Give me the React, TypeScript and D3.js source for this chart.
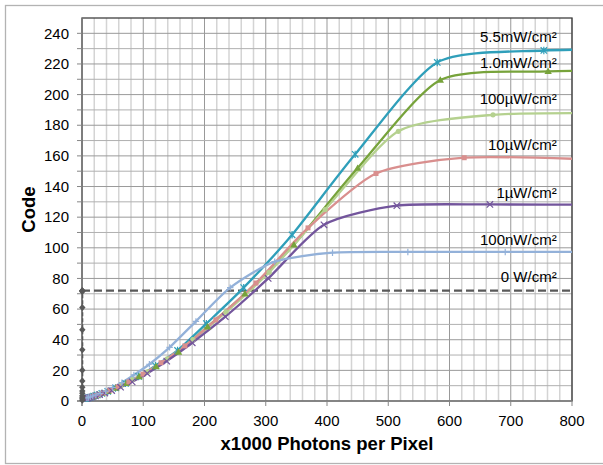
import React from 'react';
import * as d3 from 'd3';

// axis ticks
const xTicks = [0, 100, 200, 300, 400, 500, 600, 700, 800];
const yTicks = [0, 20, 40, 60, 80, 100, 120, 140, 160, 180, 200, 220, 240];

// series labels (drawn at the right end of each curve)
const seriesNames = ['5.5mW/cm²', '1.0mW/cm²', '100µW/cm²', '10µW/cm²', '1µW/cm²', '100nW/cm²', '0 W/cm²'];
const labelY = [238, 221, 197, 167, 136, 105, 81];
const labelX = 775;

// 5.5mW/cm²
const xTeal = [6.7, 8.7, 11.3, 14.7, 19.1, 24.9, 32.4, 42, 54.7, 71, 92.4, 120, 156, 203, 264, 343, 446, 580, 754, 980];
const yTeal = [1.7, 1.9, 2.2, 2.6, 3.2, 3.9, 4.9, 6.3, 8.5, 11.5, 16, 23, 33, 50.5, 74, 108.5, 161, 221, 228.8, 229.2];
// 1.0mW/cm²
const xGreen = [6.8, 8.8, 11.4, 14.9, 19.3, 25.1, 32.7, 42.5, 55.2, 71.8, 93.3, 121, 157.6, 205, 266, 346, 450, 585, 761, 989];
const yGreen = [1.8, 2, 2.3, 2.7, 3.3, 4, 5, 6.3, 8.5, 11.5, 16, 22.5, 32, 48.5, 70, 102, 152, 209.5, 215.2, 215.4];
// 100µW/cm²
const xLtGreen = [7.8, 10.1, 13.1, 17, 22.2, 28.8, 37.5, 48.7, 63.3, 82.3, 107, 139, 181, 235, 305.6, 397, 516.5, 671, 873];
const yLtGreen = [1.8, 2.1, 2.5, 3, 3.6, 4.5, 5.7, 7.5, 10, 14, 19, 27.5, 40, 58, 84, 125, 176, 186.8, 187.8];
// 10µW/cm²
const xPink = [7.2, 9.4, 12.2, 15.9, 20.6, 26.8, 34.8, 45.3, 58.9, 76.5, 99.5, 129, 168, 218.5, 284, 369, 480, 624, 811];
const yPink = [1.8, 2, 2.3, 2.8, 3.4, 4.2, 5.3, 7, 9.3, 12.5, 17.5, 25, 36, 53, 77, 113, 148.5, 158.8, 158];
// 1µW/cm²
const xPurple = [7.7, 10, 13, 17, 22, 28.7, 37.3, 48.5, 63, 81.9, 106.5, 138.4, 180, 234, 304, 395, 514, 666, 866];
const yPurple = [1.7, 2, 2.3, 2.7, 3.3, 4.1, 5.2, 6.8, 9, 12.5, 18, 26, 38, 55, 80, 115, 127.5, 128.3, 128];
// 100nW/cm²
const xLtBlue = [8, 10.4, 13.5, 17.5, 22.8, 29.6, 38.5, 50.1, 65.1, 84.7, 110, 143, 186, 242, 314.7, 409, 532, 691, 899];
const yLtBlue = [2, 2.3, 2.7, 3.3, 4, 5, 6.5, 8.8, 12, 17, 24, 35, 52, 74, 91, 96.8, 97.3, 97.3, 97.3];
// 0 W/cm²
const xDark = [0.5, 0.5, 0.5, 0.5, 0.5, 0.5, 0.5, 0.5, 0.5, 0.5, 0.5, 0.5, 0.5, 0.5, 0.5, 0.5];
const yDark = [0.5, 1.5, 2.5, 3.5, 5, 6.5, 9, 13, 20, 33.5, 46.5, 61, 71.5, 72, 72, 72];
const xDarkLevel = [0, 800];
const yDarkLevel = [72, 72];

const seriesX = [xTeal, xGreen, xLtGreen, xPink, xPurple, xLtBlue, xDark];
const seriesY = [yTeal, yGreen, yLtGreen, yPink, yPurple, yLtBlue, yDark];
const colors = ['#2f9fba', '#77a33b', '#b5d18f', '#d98f8e', '#73559c', '#93b1d9', '#595959'];
const markers = ['star', 'triangle', 'circle', 'square', 'cross', 'plus', 'diamond'];

const W = 603;
const H = 465;
const left = 82;
const right = 572;
const top = 18;
const bottom = 401;
const font = '"Liberation Sans", Arial, sans-serif';

function Marker({ kind, cx, cy, color }: { kind: string; cx: number; cy: number; color: string }) {
  const s = 3.2;
  if (kind === 'star') {
    return (
      <path d={`M${cx - s},${cy - s}L${cx + s},${cy + s}M${cx - s},${cy + s}L${cx + s},${cy - s}M${cx},${cy - s - 0.5}L${cx},${cy + s + 0.5}`}
        stroke={color} strokeWidth={1.2} fill="none" />
    );
  }
  if (kind === 'cross') {
    return <path d={`M${cx - s},${cy - s}L${cx + s},${cy + s}M${cx - s},${cy + s}L${cx + s},${cy - s}`} stroke={color} strokeWidth={1.2} fill="none" />;
  }
  if (kind === 'plus') {
    return <path d={`M${cx - s},${cy}L${cx + s},${cy}M${cx},${cy - s}L${cx},${cy + s}`} stroke={color} strokeWidth={1.2} fill="none" />;
  }
  if (kind === 'triangle') {
    return <path d={`M${cx},${cy - s - 0.5}L${cx + s + 0.5},${cy + s - 0.5}L${cx - s - 0.5},${cy + s - 0.5}Z`} fill={color} />;
  }
  if (kind === 'square') {
    return <rect x={cx - 2.5} y={cy - 2.5} width={5} height={5} fill={color} />;
  }
  if (kind === 'diamond') {
    return <path d={`M${cx},${cy - s - 0.3}L${cx + s},${cy}L${cx},${cy + s + 0.3}L${cx - s},${cy}Z`} fill={color} />;
  }
  return <circle cx={cx} cy={cy} r={2.6} fill={color} />;
}

export default function App() {
  const x = d3.scaleLinear().domain([0, 800]).range([left, right]);
  const y = d3.scaleLinear().domain([0, 250]).range([bottom, top]);

  // smoothed lines, a little tension to keep the saturation knee from overshooting
  const line = d3
    .line<[number, number]>()
    .x((d) => x(d[0]))
    .y((d) => y(d[1]))
    .curve(d3.curveCardinal.tension(0.3));

  const straight = d3
    .line<[number, number]>()
    .x((d) => x(d[0]))
    .y((d) => y(d[1]));

  const vGrid = d3.range(0, 801, 20);
  const hGrid = d3.range(10, 250, 10);
  const darkLevel = xDarkLevel.map((v, i) => [v, yDarkLevel[i]] as [number, number]);

  return (
    <svg width={W} height={H} style={{ position: 'absolute', left: 0, top: 0, background: '#fff' }} fontFamily={font}>
      <rect x={5.5} y={5.5} width={605} height={458} fill="#fff" stroke="#b3b3b3" strokeWidth={1.3} />
      <defs>
        <clipPath id="plot">
          <rect x={left} y={top} width={right - left} height={bottom - top} />
        </clipPath>
      </defs>

      {/* grid */}
      {vGrid.map((v) => (
        <line key={'v' + v} x1={x(v)} x2={x(v)} y1={top} y2={bottom}
          stroke={v % 100 === 0 ? '#999999' : '#d4d4d4'} strokeWidth={v % 100 === 0 ? 1 : 1.5} />
      ))}
      {hGrid.map((v) => (
        <line key={'h' + v} x1={left} x2={right} y1={y(v)} y2={y(v)}
          stroke={v % 20 === 0 ? '#9a9a9a' : '#b0b0b0'} strokeWidth={1} />
      ))}

      {/* plot border */}
      <rect x={left} y={top} width={right - left} height={bottom - top} fill="none" stroke="#404040" strokeWidth={1.3} />
      <line x1={left} x2={left} y1={top} y2={bottom + 5} stroke="#868686" strokeWidth={1.3} />
      <line x1={left - 5} x2={right} y1={bottom} y2={bottom} stroke="#868686" strokeWidth={1.3} />

      {/* ticks */}
      {d3.range(0, 250, 10).map((v) => (
        <line key={'yt' + v} x1={left - 5} x2={left} y1={y(v)} y2={y(v)} stroke="#868686" strokeWidth={1} />
      ))}
      {xTicks.map((v) => (
        <line key={'xt' + v} x1={x(v)} x2={x(v)} y1={bottom} y2={bottom + 5} stroke="#868686" strokeWidth={1} />
      ))}
      {yTicks.map((v) => (
        <text key={'yl' + v} x={69} y={y(v)} dy="0.35em" textAnchor="end" fontSize={15} fill="#000">{v}</text>
      ))}
      {xTicks.map((v) => (
        <text key={'xl' + v} x={x(v)} y={426} textAnchor="middle" fontSize={15} fill="#000">{v}</text>
      ))}

      {/* dark level */}
      <path d={straight(darkLevel) || ''} fill="none" stroke="#595959" strokeWidth={2.2} strokeDasharray="8,4" />

      {/* curves */}
      <g clipPath="url(#plot)">
        {seriesX.map((xs, i) => {
          const pts = xs.map((v, j) => [v, seriesY[i][j]] as [number, number]);
          return (
            <path key={'s' + i} d={(i === 6 ? straight(pts) : line(pts)) || ''} fill="none" stroke={colors[i]}
              strokeWidth={i === 6 ? 2 : 2.3} strokeDasharray={i === 6 ? '4,2' : undefined} />
          );
        })}
      </g>
      {seriesX.map((xs, i) => (
        <g key={'m' + i}>
          {xs.filter((v) => v <= 800).map((v, j) => (
            <Marker key={j} kind={markers[i]} cx={x(v)} cy={y(seriesY[i][j])} color={colors[i]} />
          ))}
        </g>
      ))}

      {/* labels */}
      {seriesNames.map((n, i) => (
        <text key={'n' + i} x={x(labelX)} y={y(labelY[i])} dy="0.35em" textAnchor="end" fontSize={15} fill="#000">{n}</text>
      ))}

      {/* axis titles */}
      <text x={(left + right) / 2} y={450} textAnchor="middle" fontSize={18.5} fontWeight="bold">x1000 Photons per Pixel</text>
      <text transform={`translate(35,${(top + bottom) / 2}) rotate(-90)`} textAnchor="middle" fontSize={18.5} fontWeight="bold">Code</text>
    </svg>
  );
}
